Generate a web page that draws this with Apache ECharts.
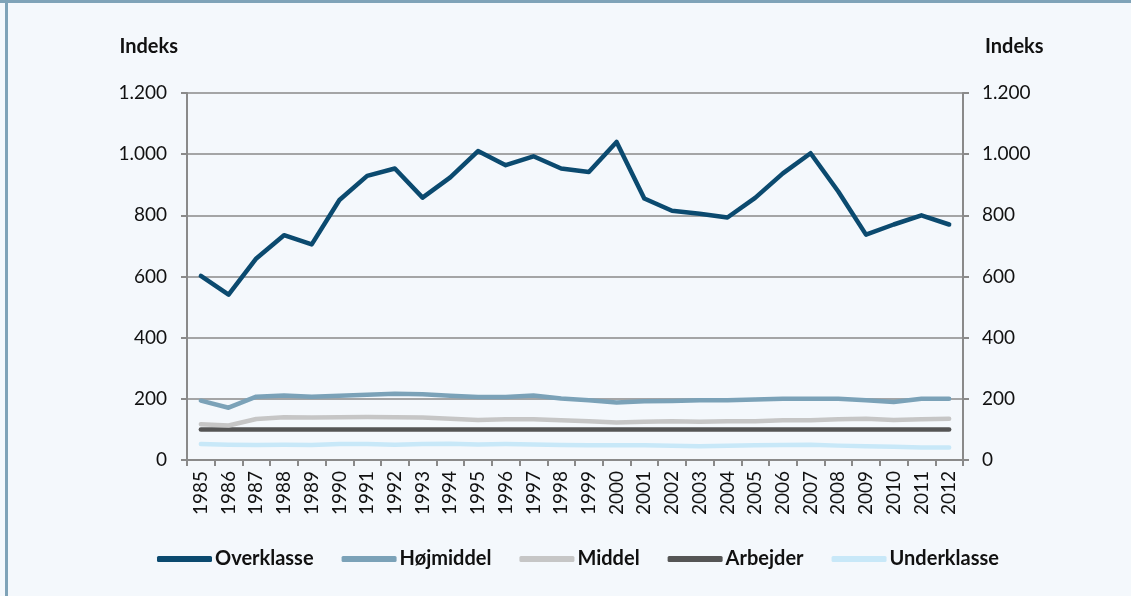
<!DOCTYPE html>
<html>
<head>
<meta charset="utf-8">
<script src="https://cdn.jsdelivr.net/npm/echarts@6/dist/echarts.min.js"></script>
<style>
  html, body { margin: 0; padding: 0; background: #f4f8fc; }
  #chart { width: 1131px; height: 596px; }
</style>
</head>
<body>
<div id="chart"></div>
<script>
var years = ['1985', '1986', '1987', '1988', '1989', '1990', '1991', '1992', '1993', '1994',
  '1995', '1996', '1997', '1998', '1999', '2000', '2001', '2002', '2003', '2004',
  '2005', '2006', '2007', '2008', '2009', '2010', '2011', '2012']

var overklasse = [602, 541, 659, 735, 705, 850, 929, 953, 858, 924,
  1010, 964, 993, 953, 942, 1040, 855, 815, 805, 793,
  857, 937, 1003, 878, 737, 770, 800, 770]
var hojmiddel = [194, 171, 207, 211, 207, 210, 213, 217, 215, 210,
  206, 206, 211, 201, 195, 188, 192, 193, 195, 195,
  198, 200, 200, 200, 195, 190, 200, 200]
var middel = [117, 113, 134, 140, 139, 140, 141, 140, 139, 135,
  131, 133, 133, 130, 127, 123, 125, 127, 125, 127,
  127, 130, 130, 133, 135, 131, 133, 135]
var arbejder = [100, 100, 100, 100, 100, 100, 100, 100, 100, 100,
  100, 100, 100, 100, 100, 100, 100, 100, 100, 100,
  100, 100, 100, 100, 100, 100, 100, 100]
var underklasse = [52, 50, 49, 50, 49, 52, 52, 50, 52, 53,
  51, 52, 51, 49, 48, 48, 48, 47, 45, 47,
  48, 49, 50, 47, 45, 43, 41, 41]

var seriesNames = ['Overklasse', 'Højmiddel', 'Middel', 'Arbejder', 'Underklasse']
var seriesColors = ['#0b4a6f', '#7ba2b8', '#c6c6c6', '#555555', '#c8e8f8']
var seriesData = [overklasse, hojmiddel, middel, arbejder, underklasse]

var chart = echarts.init(document.getElementById('chart'))

var font = 'Lato, "Open Sans", sans-serif'

function makeYAxis (pos) {
  var left = pos === 'left'
  return {
    type: 'value',
    position: pos,
    min: 0,
    max: 1200,
    interval: 200,
    name: 'Indeks',
    nameLocation: 'end',
    nameGap: 46,
    nameTextStyle: {
      fontFamily: font,
      fontWeight: 'bold',
      fontSize: 20,
      color: '#111',
      align: left ? 'right' : 'left',
      verticalAlign: 'middle',
      padding: left ? [0, 9, 0, 0] : [0, 0, 0, 22]
    },
    axisLine: { show: true, lineStyle: { color: '#8a8a8a', width: 2 } },
    axisTick: { show: true, length: 6, lineStyle: { color: '#8a8a8a', width: 2 } },
    axisLabel: {
      fontFamily: font,
      fontSize: 19,
      color: '#111',
      margin: left ? 20 : 19,
      formatter: function (v) {
        return v >= 1000 ? String(v).replace(/(\d)(\d{3})$/, '$1.$2') : String(v)
      }
    },
    splitLine: { show: left, lineStyle: { color: '#8a8a8a', width: 1.5 } }
  }
}

var series = seriesNames.map(function (name, i) {
  return {
    name: name,
    type: 'line',
    yAxisIndex: 0,
    data: seriesData[i],
    symbol: 'none',
    z: 10 - i,
    lineStyle: { color: seriesColors[i], width: 4.5, cap: 'round', join: 'round' },
    itemStyle: { color: seriesColors[i] }
  }
})

chart.setOption({
  backgroundColor: '#f4f8fc',
  animation: false,
  graphic: [
    { type: 'rect', shape: { x: 0, y: 0, width: 1131, height: 3 }, style: { fill: '#7fa3b8' } },
    { type: 'rect', shape: { x: 5, y: 0, width: 3, height: 596 }, style: { fill: '#7fa3b8' } }
  ],
  grid: { left: 187, right: 168, top: 93, bottom: 136 },
  legend: {
    data: seriesNames,
    bottom: 22,
    left: 152,
    icon: 'roundRect',
    itemWidth: 55,
    itemHeight: 6,
    itemGap: 28,
    textStyle: { fontFamily: font, fontWeight: 'bold', fontSize: 20, color: '#111', padding: [0, 0, 0, -2] }
  },
  xAxis: {
    type: 'category',
    data: years,
    boundaryGap: true,
    axisLine: { lineStyle: { color: '#8a8a8a', width: 2 } },
    axisTick: { show: true, length: 6, lineStyle: { color: '#8a8a8a', width: 2 } },
    axisLabel: { rotate: 90, fontFamily: font, fontSize: 19, color: '#111', margin: 11, interval: 0 }
  },
  yAxis: [makeYAxis('left'), makeYAxis('right')],
  series: series
})
</script>
</body>
</html>
